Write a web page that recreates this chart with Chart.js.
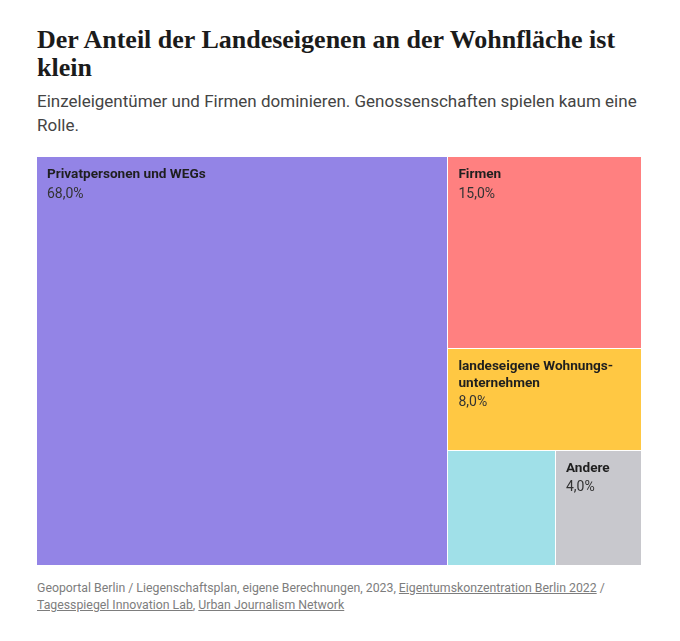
<!DOCTYPE html>
<html>
<head>
<meta charset="utf-8">
<script src="https://cdn.jsdelivr.net/npm/chart.js@4/dist/chart.umd.min.js"></script>
<style>
  body { margin: 0; background: #fff; }
  #wrap { position: relative; width: 680px; height: 641px; overflow: hidden; }
  h1 { position: absolute; left: 37px; top: 26px; width: 620px; margin: 0;
       font: bold 26px/28px "Liberation Serif", serif; color: #1b1b1b; }
  .sub { position: absolute; left: 37px; top: 89px; width: 620px; margin: 0;
         font: 17px/24px Roboto, sans-serif; color: #444; }
  #box { position: absolute; left: 37px; top: 157px; width: 605px; height: 409px; }
  .src { position: absolute; left: 37px; top: 580px; width: 630px; margin: 0;
         font: 12.3px/17px Roboto, sans-serif; color: #7d7d7d; }
  .src a { color: #7d7d7d; text-decoration: underline; }
</style>
</head>
<body>
<div id="wrap">
  <h1>Der Anteil der Landeseigenen an der Wohnfläche ist klein</h1>
  <p class="sub">Einzeleigentümer und Firmen dominieren. Genossenschaften spielen kaum eine Rolle.</p>
  <div id="box"><canvas id="chart" width="605" height="409"></canvas></div>
  <p class="src">Geoportal Berlin / Liegenschaftsplan, eigene Berechnungen, 2023, <a>Eigentumskonzentration Berlin 2022</a> / <a>Tagesspiegel Innovation Lab</a>, <a>Urban Journalism Network</a></p>
</div>
<script>
// share of residential floor area by owner type (%)
const categories = ["Privatpersonen und WEGs", "Firmen", "landeseigene Wohnungs-unternehmen", "Genossenschaften", "Andere"];
const shares = [68, 15, 8, 5, 4];
const cellColors = ["#9384e6", "#ff8080", "#ffc843", "#a0e0e8", "#c8c8cd"];

// squarified layout, in pixels of the given rectangle
function squarify(vals, rect) {
  const out = [];
  let items = vals.map((v, i) => ({ v: v, i: i }));
  let { x, y, w, h } = rect;
  const total = vals.reduce((a, b) => a + b, 0);
  const k = w * h / total;
  const worst = (row, side) => {
    const s = row.reduce((a, r) => a + r.v * k, 0);
    const mx = Math.max(...row.map(r => r.v * k));
    const mn = Math.min(...row.map(r => r.v * k));
    return Math.max(side * side * mx / (s * s), (s * s) / (side * side * mn));
  };
  while (items.length) {
    const side = Math.min(w, h);
    let row = [items[0]];
    let n = 1;
    while (n < items.length && worst(row.concat(items[n]), side) <= worst(row, side)) {
      row.push(items[n]);
      n++;
    }
    items = items.slice(n);
    const s = row.reduce((a, r) => a + r.v * k, 0);
    if (w >= h) {
      const rw = s / h;
      let yy = y;
      row.forEach(r => { const rh = r.v * k / rw; out[r.i] = { x: x, y: yy, w: rw, h: rh }; yy += rh; });
      x += rw; w -= rw;
    } else {
      const rh = s / w;
      let xx = x;
      row.forEach(r => { const rw = r.v * k / rh; out[r.i] = { x: xx, y: y, w: rw, h: rh }; xx += rw; });
      y += rh; h -= rh;
    }
  }
  return out;
}

// split label into lines (at spaces and after hyphens) to fit maxW
function wrapLabel(ctx, text, maxW) {
  const tokens = text.match(/[^\s-]+-?|\s+/g).filter(t => t.trim() !== "");
  const lines = [];
  let cur = "";
  for (const t of tokens) {
    if (ctx.measureText(t).width > maxW) return null;
    const glue = cur === "" || cur.endsWith("-") ? "" : " ";
    const test = cur + glue + t;
    if (ctx.measureText(test).width <= maxW || cur === "") {
      cur = test;
    } else {
      lines.push(cur);
      cur = t;
    }
  }
  if (cur) lines.push(cur);
  return lines;
}

const treemapCells = {
  id: "treemapCells",
  afterDatasetsDraw(chart, args, opts) {
    const ctx = chart.ctx;
    const xs = chart.scales.x, ys = chart.scales.y;
    const x0 = xs.getPixelForValue(0), x1 = xs.getPixelForValue(100);
    const y0 = ys.getPixelForValue(0), y1 = ys.getPixelForValue(100);
    const rects = squarify(opts.values, { x: x0, y: y0, w: x1 - x0, h: y1 - y0 });
    const pad = 10;
    ctx.save();
    rects.forEach((r, i) => {
      ctx.fillStyle = opts.colors[i];
      ctx.fillRect(Math.round(r.x), Math.round(r.y), Math.round(r.x + r.w) - Math.round(r.x) - 1, Math.round(r.y + r.h) - Math.round(r.y) - 1);

      ctx.font = "bold 13.6px Roboto, sans-serif";
      const lines = wrapLabel(ctx, opts.labels[i], r.w - 2 * pad);
      if (!lines) return;
      ctx.fillStyle = "#1f1f1f";
      ctx.textBaseline = "middle";
      ctx.textAlign = "left";
      let ty = r.y + 18;
      lines.forEach(l => { ctx.fillText(l, r.x + pad, ty); ty += 17; });
      ctx.font = "14px Roboto, sans-serif";
      ctx.fillStyle = "#333";
      ctx.fillText(opts.values[i].toFixed(1).replace(".", ",") + "%", r.x + pad, ty + 2);
    });
    ctx.restore();
  }
};

new Chart(document.getElementById("chart"), {
  type: "scatter",
  data: { datasets: [{ label: "Wohnfläche", data: [] }] },
  options: {
    responsive: false,
    animation: false,
    events: [],
    layout: { padding: 0 },
    scales: {
      x: { type: "linear", min: 0, max: 100, display: false },
      y: { type: "linear", min: 0, max: 100, reverse: true, display: false }
    },
    plugins: {
      legend: { display: false },
      tooltip: { enabled: false },
      treemapCells: { values: shares, labels: categories, colors: cellColors }
    }
  },
  plugins: [treemapCells]
});
</script>
</body>
</html>
